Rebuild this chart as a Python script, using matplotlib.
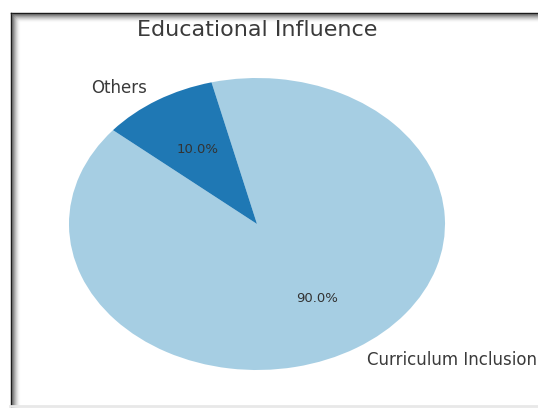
import matplotlib
matplotlib.use('Agg')
import matplotlib.pyplot as plt
from matplotlib.lines import Line2D

labels = ['Curriculum Inclusion', 'Others']
sizes = [90, 10]
colors = ['#a6cee3', '#1f78b4']
title = 'Educational Influence'

W, H = 538, 408
fig = plt.figure(figsize=(W / 100, H / 100), dpi=100)
fig.patch.set_facecolor('white')

# axes placed so the (stretched) pie sits where it does in the screenshot
ax = fig.add_axes([22 / W, 1.5 / H, 470 / W, 365 / H])
wedges, texts, autotexts = ax.pie(sizes, labels=labels, colors=colors, startangle=140,
                                  autopct='%1.1f%%', pctdistance=0.6, labeldistance=1.1,
                                  textprops={'fontsize': 12, 'color': '#3a3a3a'})
for t in autotexts:
    t.set_fontsize(9.5)
    t.set_color('#333333')
ax.set_aspect('auto')
ax.set_xlim(-1.25, 1.25)
ax.set_ylim(-1.25, 1.25)

fig.text(257 / W, 1 - 30 / H, title, ha='center', va='center', fontsize=16, color='#3a3a3a')

# screenshot frame: dark edge on left/top with a soft inner shadow
def px_x(x):
    return x / W

def px_y(y):
    return 1 - y / H

for i in range(9):
    g = 0.05 if i == 0 else 0.3 + i * 0.08
    c = (min(g, 1), min(g, 1), min(g, 1))
    x = 10.5 + i
    y = 12.5 + i
    fig.add_artist(Line2D([px_x(x), px_x(x)], [px_y(y), px_y(408)], color=c, lw=1.0,
                          transform=fig.transFigure, alpha=1 - i * 0.1))
    fig.add_artist(Line2D([px_x(x), px_x(538)], [px_y(y), px_y(y)], color=c, lw=1.0,
                          transform=fig.transFigure, alpha=1 - i * 0.1))
fig.add_artist(Line2D([px_x(10), px_x(538)], [px_y(406), px_y(406)], color='#e8e8e8', lw=2,
                      transform=fig.transFigure))

fig.savefig('out.png', dpi=100)
